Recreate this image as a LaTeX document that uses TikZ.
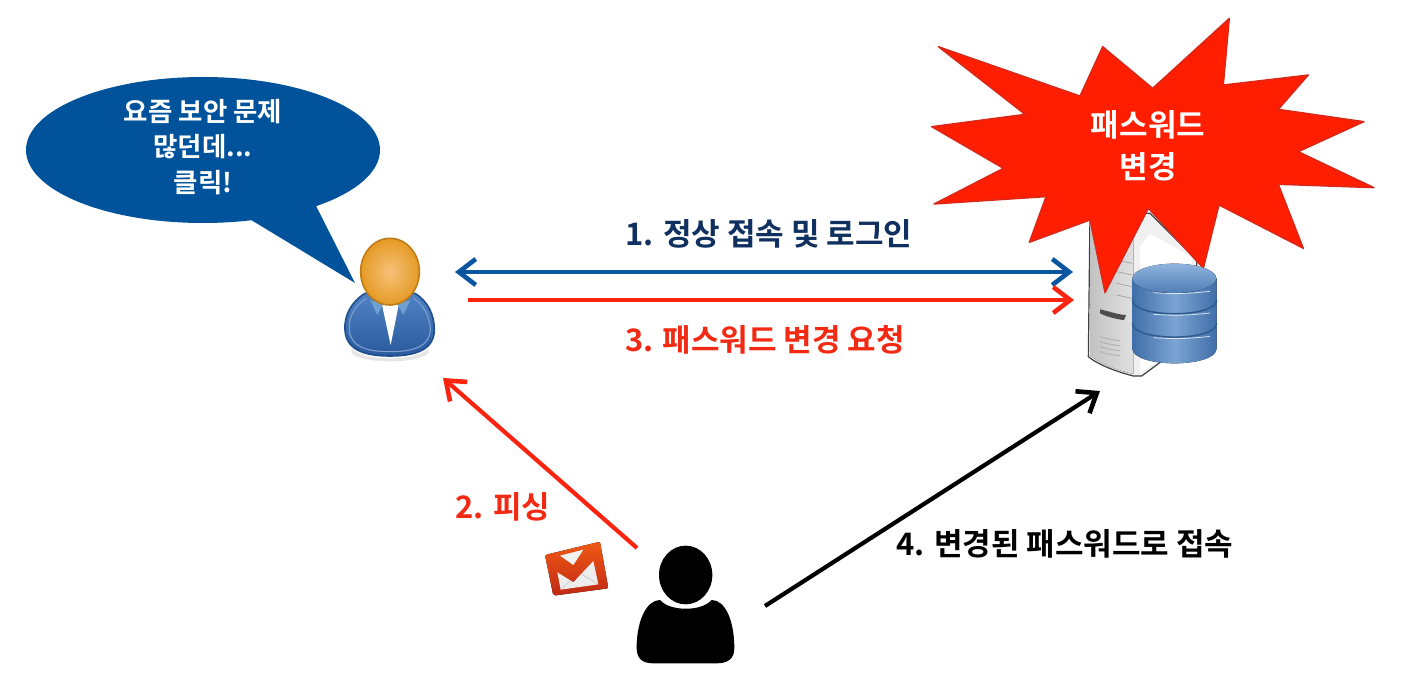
\documentclass[tikz,border=0pt]{standalone}
\usepackage{fontspec}
\setmainfont{Noto Sans CJK KR}[BoldFont={Noto Sans CJK KR Bold}]
\usetikzlibrary{arrows.meta,shapes.geometric}
\definecolor{bubbleblue}{HTML}{00529B}
\definecolor{burstred}{HTML}{FF1E00}
\definecolor{burstedge}{HTML}{D8281A}
\definecolor{linkblue}{HTML}{0A55A0}
\definecolor{linkred}{HTML}{FA2410}
\definecolor{navytext}{HTML}{10305F}
\definecolor{redtext}{HTML}{F22A14}
\definecolor{dbedge}{HTML}{3F6EA8}
\definecolor{dbmid}{HTML}{7CA4D2}
\definecolor{dbline}{HTML}{2F5A8E}
\definecolor{dbtopa}{HTML}{8FB4DE}
\definecolor{dbtopb}{HTML}{4F7DB6}
\definecolor{suitA}{HTML}{4F82C4}
\definecolor{suitB}{HTML}{2A5A9E}
\definecolor{suitedge}{HTML}{1F4E8C}
\definecolor{suitline}{HTML}{7C9FD0}
\definecolor{collar}{HTML}{6FA0CF}
\definecolor{headA}{HTML}{F6C27A}
\definecolor{headB}{HTML}{E59A25}
\definecolor{headedge}{HTML}{C07C14}
\definecolor{mailA}{HTML}{F05A14}
\definecolor{mailB}{HTML}{C02814}
\tikzset{
  lbl/.style={font=\bfseries\fontsize{#1}{#1}\selectfont,align=center,inner sep=0pt},
  link/.style={line width=4.2pt},
  headtip/.tip={Straight Barb[length=17pt,width=26pt,line width=4.6pt]},
}
\begin{document}
\begin{tikzpicture}[x=1pt,y=-1pt]
\useasboundingbox (0,0) rectangle (1401,679);
\fill[white] (0,0) rectangle (1401,679);

% speech bubble
\fill[bubbleblue] (203,150) ellipse [x radius=177,y radius=73];
\fill[bubbleblue,line join=round] (238,212) -- (355,283) -- (308,190) -- cycle;
\node[lbl=26.5,text=white] (bubbletxt) at (203,147) {요즘 보안 문제\\[9pt]많던데...\\[9pt]클릭!};

% user
\begin{scope}[shift={(320,220)},x=1/3*1pt,y=-1/3*1pt]
  \fill[black!10] (95,385) .. controls (130,425) and (290,425) .. (325,385) -- (325,400) .. controls (290,432) and (130,432) .. (95,400) -- cycle;
  \draw[line width=1.6pt,draw=suitedge,top color=suitA,bottom color=suitB]
    (135,220) .. controls (95,245) and (72,285) .. (75,330) .. controls (78,385) and (125,408) .. (210,408)
    .. controls (295,408) and (342,385) .. (343,330) .. controls (343,285) and (325,245) .. (285,220) -- cycle;
  \draw[line width=1.1pt,draw=suitline]
    (140,235) .. controls (105,255) and (85,290) .. (88,330) .. controls (92,375) and (130,395) .. (210,395)
    .. controls (290,395) and (328,375) .. (331,330) .. controls (330,290) and (312,255) .. (280,235);
  \fill[white] (185,250) -- (237,250) -- (212,375) -- cycle;
  \fill[collar] (150,240) -- (190,252) -- (172,285) -- cycle;
  \fill[collar] (272,240) -- (232,252) -- (250,285) -- cycle;
  \shade[inner color=headA,outer color=headB,draw=headedge,line width=1.6pt]
    (210,155) ellipse [x radius=88,y radius=100];
\end{scope}
\node[inner sep=0pt,minimum size=1pt] (user) at (390,300) {};

% server
\begin{scope}[shift={(920,0)},x=1/3*1pt,y=-1/3*1pt]
  \draw[line width=1.2pt,draw=black!75,fill=black!6] (510,640) -- (690,640) -- (830,780) -- (830,1000) -- (710,1095) -- (665,1128) -- (640,1128) .. controls (590,1115) and (535,1095) .. (505,1070) -- cycle;
  \fill[left color=black!24,right color=black!12] (512,650) -- (640,690) -- (640,1122) .. controls (590,1110) and (535,1090) .. (510,1065) -- cycle;
  \fill[white] (660,740) -- (690,700) -- (815,770) -- (815,1010) -- (660,1120) -- cycle;
  \fill[black!70] (540,928) .. controls (570,935) and (600,945) .. (618,945) -- (612,960) .. controls (590,958) and (560,950) .. (540,940) -- cycle;
  \foreach \yy in {1010,1025,1040,1055}
    \draw[black!30,line width=1pt] (540,\yy) .. controls (565,\yy+8) and (580,\yy+10) .. (600,\yy+12);
  \foreach \yy in {780,815,850,885}
    \draw[black!40,line width=.6pt] (590,\yy) -- (636,\yy+10);
\end{scope}

% burst
\begin{scope}[shift={(920,0)},x=1/3*1pt,y=-1/3*1pt]
  \draw[fill=burstred,draw=burstedge,line width=1.4pt,line join=round]
    (55,140) -- (480,288) -- (548,140) -- (698,265) -- (928,55) -- (910,255) -- (1165,225) -- (1075,328)
    -- (1332,365) -- (1135,455) -- (1362,563) -- (1075,553) -- (1150,745) -- (897,615) -- (850,805)
    -- (685,625) -- (555,878) -- (510,660) -- (328,727) -- (378,590) -- (42,612) -- (250,505)
    -- (35,380) -- (315,343) -- cycle;
\end{scope}
\node[lbl=31,text=white] (bursttxt) at (1148,146) {패스워드\\[11pt]변경};

% database
\begin{scope}[shift={(920,0)},x=1/3*1pt,y=-1/3*1pt]
  \fill[left color=dbedge,right color=dbedge,middle color=dbmid]
    (637,835) -- (637,1045) .. controls (637,1105) and (890,1105) .. (890,1045) -- (890,835) -- cycle;
  \foreach \yy in {900,970}
    \draw[line width=1.5pt,draw=dbline] (637,\yy) .. controls (637,\yy+55) and (890,\yy+55) .. (890,\yy);
  \foreach \yy in {880,945,1015}
    \draw[line width=.8pt,white,opacity=.75] (700,\yy-2) .. controls (760,\yy+2) and (800,\yy+2) .. (870,\yy-6);
  \fill[top color=dbtopa,bottom color=dbtopb] (763,835) ellipse [x radius=126,y radius=44];
\end{scope}
\node[inner sep=0pt,minimum size=1pt] (server) at (1150,300) {};

% attacker
\begin{scope}[shift={(520,520)},x=1/3*1pt,y=-1/3*1pt]
  \fill[black] (497,165) ellipse [x radius=80,y radius=88];
  \fill[black] (420,240) .. controls (450,275) and (545,275) .. (575,240)
    .. controls (615,240) and (643,300) .. (643,385) .. controls (643,415) and (625,430) .. (590,430)
    -- (400,430) .. controls (365,430) and (348,415) .. (350,375) .. controls (352,300) and (380,240) .. (420,240) -- cycle;
\end{scope}
\node[inner sep=0pt,minimum size=1pt] (attacker) at (685,610) {};

% mail icon
\begin{scope}[shift={(540,535)},x=1/3*1pt,y=-1/3*1pt]
  \fill[top color=mailA,bottom color=mailB,rounded corners=2pt] (15,60) -- (180,20) -- (205,160) -- (40,182) -- cycle;
  \fill[black!7] (52,112) -- (100,142) -- (160,78) -- (175,148) -- (62,164) -- cycle;
  \fill[black!5] (60,62) -- (130,44) -- (100,90) -- cycle;
  \draw[black!25,line width=.5pt] (62,164) -- (92,136) (175,148) -- (125,118);
\end{scope}

% connectors
\coordinate (aL) at (455,272);
\coordinate (aR) at (1073,272);
\coordinate (bL) at (468,300);
\coordinate (bR) at (1074,300);
\coordinate (cS) at (637,548);
\coordinate (cE) at (443,378);
\coordinate (dS) at (765,606);
\coordinate (dE) at (1100,391);
\draw[link,linkblue,headtip-headtip] (aL) -- (aR);
\draw[link,linkred,-headtip] (bL) -- (bR);
\draw[link,linkred,-headtip] (cS) -- (cE);
\draw[link,black,-headtip] (dS) -- (dE);

% labels
\node[lbl=31,text=navytext] (l1) at (769,234) {1. 정상 접속 및 로그인};
\node[lbl=31,text=redtext] (l3) at (765,340) {3. 패스워드 변경 요청};
\node[lbl=31,text=redtext] (l2) at (503,507) {2. 피싱};
\node[lbl=31,text=black] (l4) at (1065,544) {4. 변경된 패스워드로 접속};
\end{tikzpicture}
\end{document}
